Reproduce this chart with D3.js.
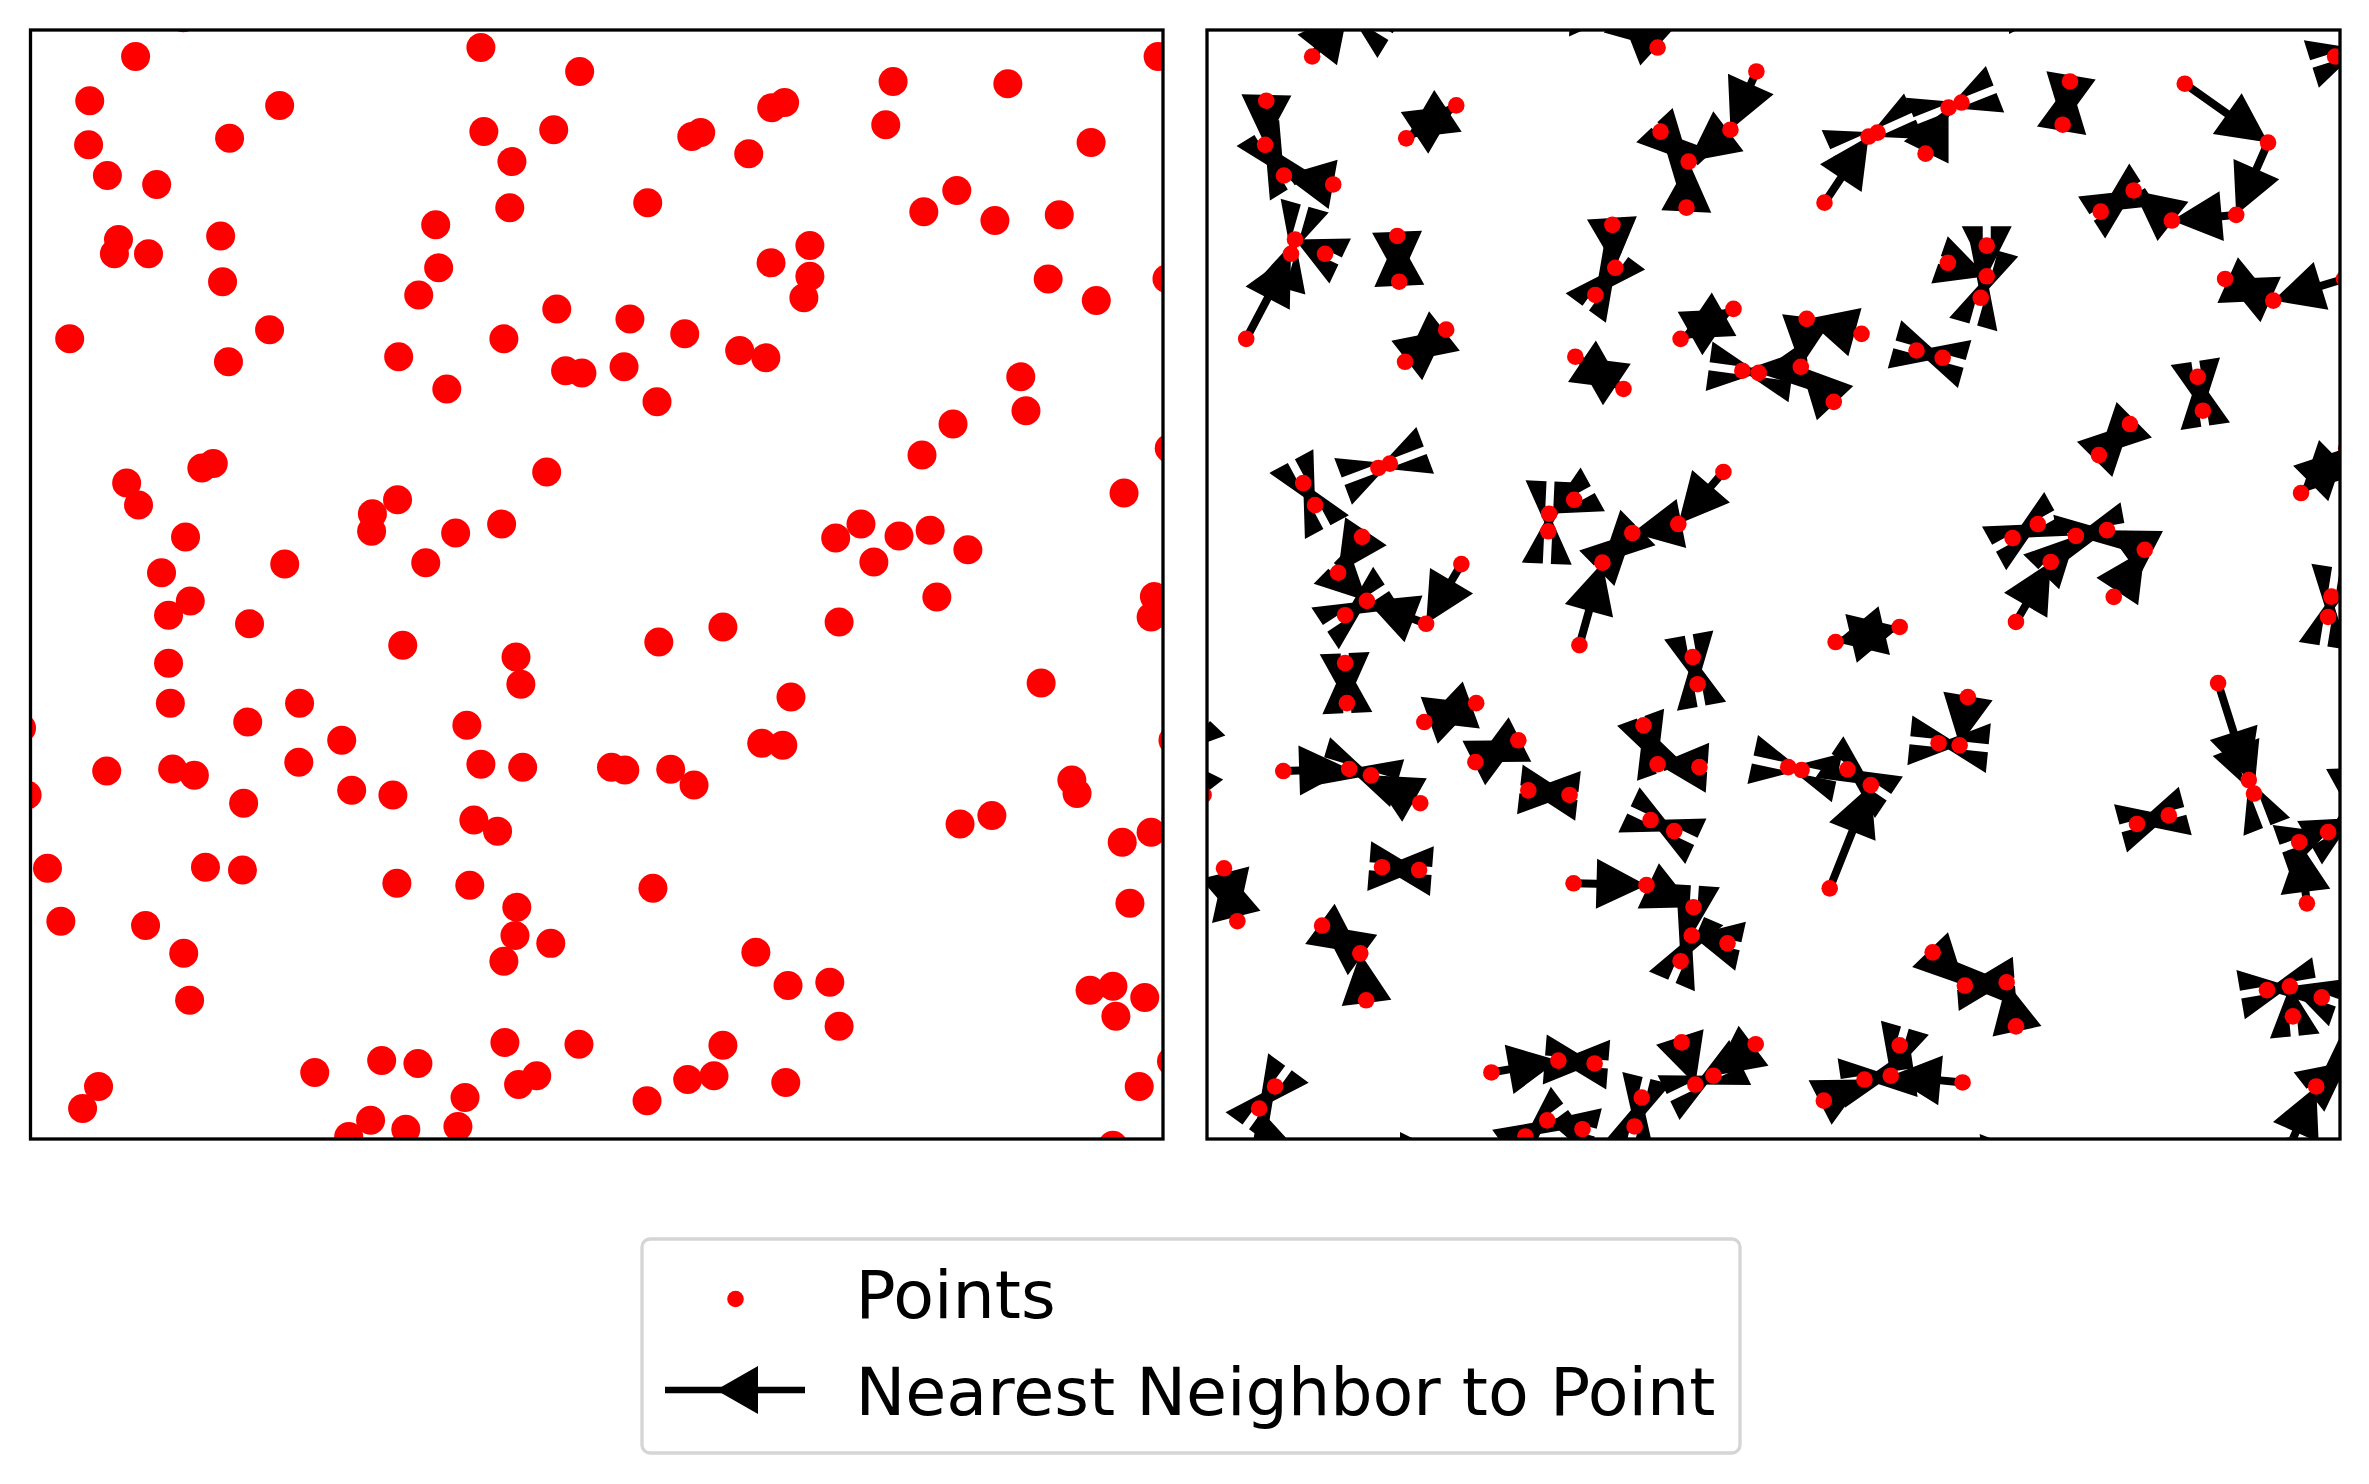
<!DOCTYPE html>
<html>
<head>
<meta charset="utf-8">
<script src="https://cdn.jsdelivr.net/npm/d3@7/dist/d3.min.js"></script>
<style>
  html, body { margin: 0; background: #fff; }
  text { font-family: "DejaVu Sans"; }
</style>
</head>
<body>
<div id="chart"></div>
<script>
// points as [x, y] in axis fractions, y measured up from the bottom of the axes
const pointsUpperLeft = [[.1349,1.011],[.0928,.9761],[.3977,.9842],[.4849,.9626],[.0523,.9362],[.22,.932],[.4003,.9084],[.462,.9101],
  [.0513,.8965],[.1758,.9023],[.4251,.8814],[.0679,.8688],[.1114,.8607],[.4232,.8398],[.3578,.8243],[.0777,.8111],[.0741,.7982],
  [.1042,.7982],[.1679,.8143],[.1696,.773],[.3604,.7856],[.3428,.7611],[.4647,.7485],[.2111,.7298],[.0346,.7215],[.1748,.7008],
  [.3251,.7054],[.418,.7215],[.4725,.6928],[.4869,.6908],[.3676,.6763],[.1614,.609],[.1513,.6051],[.0849,.5915],[.0954,.5716],
  [.1369,.5429],[.1157,.5106],[.2245,.5184],[.3241,.5764],[.3019,.5638],[.3012,.548],[.349,.5197],[.3754,.5464],[.416,.5545],[.4558,.6015]]
const pointsUpperRight = [[.9957,.9761],[.7617,.9536],[.863,.9516],[.6659,.9346],[.6545,.93],[.5918,.9075],[.5839,.9039],[.7552,.9146],
  [.6342,.8885],[.9365,.8985],[.545,.8443],[.8179,.8553],[.7888,.8362],[.8516,.8282],[.9084,.8333],[.6882,.8056],[.6539,.7901],
  [.6882,.7779],[.6829,.7585],[.8986,.7755],[.9411,.756],[1.0035,.7756],[.5293,.7395],[.5777,.726],[.5241,.6963],[.6262,.711],
  [.6493,.7044],[.5532,.6647],[.8744,.6873],[.879,.6567],[.8146,.6447],[.7872,.6167],[1.0055,.6228],[.9656,.5825],[.7333,.5545],
  [.711,.5419],[.7669,.5438],[.7944,.549],[.7447,.5203],[.8277,.5313]]
const pointsLowerLeft = [[.1411,.4852],[.1219,.4723],[.1934,.4646],[.3287,.4453],[.4287,.4346],[.433,.4101],[.1219,.4291],[.1235,.393],
  [.2376,.393],[.1918,.376],[.2748,.3595],[.3853,.373],[-.0079,.3705],[.2369,.3398],[.0673,.3318],[.1255,.3337],[.1447,.3279],
  [.3977,.3379],[.4346,.3353],[.2836,.3144],[.32,.3102],[-.003,.3102],[.1882,.3028],[.3915,.2876],[.4124,.2776],[.015,.2441],
  [.1545,.2451],[.1872,.2425],[.3235,.2306],[.3879,.2289],[.4294,.209],[.4278,.1835],[.4594,.1764],[.418,.1603],[.0268,.1964],
  [.1016,.1925],[.1353,.1674],[.1405,.1251],[.4189,.0871],[.4843,.0855],[.3101,.0707],[.3421,.0681],[.251,.06],[.447,.0571],
  [.431,.0491],[.3837,.0374],[.0601,.0474],[.046,.0275],[.3003,.0168],[.281,.0023],[.3314,.0088],[.3774,.0113]]
const pointsLowerRight = [[.8003,.4888],[.9924,.4891],[.9895,.4707],[.5548,.4481],[.6114,.4617],[.714,.4662],[.6715,.3985],[.8924,.4111],
  [1.0088,.3595],[.513,.3353],[.5248,.3327],[.5653,.3334],[.5859,.3192],[.6457,.3569],[.6643,.355],[.9195,.3237],[.9241,.3115],
  [.8208,.2841],[.8489,.2918],[.964,.2676],[.9895,.2767],[.5496,.226],[.9708,.2125],[.6405,.1683],[.6689,.1384],[.7058,.1413],
  [.714,.1016],[.9356,.1342],[.9558,.1377],[.9839,.1277],[.9584,.1106],[1.0075,.07],[.6114,.0845],[.5803,.0536],[.6035,.0571],
  [.6669,.051],[.5444,.0346],[.979,.0474],[.9558,-.0057]]
// these lie past the axes, never seen themselves, worked out from the arrow heads that reach in
const pointsOutside = [[.1244,1.0176],[.3645,1.0149],[.3071,1.0171],[.6911,1.0189],[.752,1.0189],[.752,1.0721],[1.0168,.9829],
  [.0583,-.0162],[.1571,-.0162],[.2145,-.0162],[.2145,-.0694],[.6646,-.02],[.7281,-.0135],[.7281,-.0649],[-.03,.3463],[1.0115,.2895]]
const points = [...pointsUpperLeft, ...pointsUpperRight, ...pointsLowerLeft, ...pointsLowerRight, ...pointsOutside]

const legendLabels = ['Points', 'Nearest Neighbor to Point']

const width = 2369, height = 1484
const svg = d3.select('#chart').append('svg')
  .attr('width', width)
  .attr('height', height)
  .style('display', 'block')

const axTop = 30, axBottom = 1139
const panels = [{x0: 30.5, x1: 1163, r: 14.5}, {x0: 1207, x1: 2340, r: 8.3}]

panels.forEach((p, i) => {
  p.x = d3.scaleLinear().domain([0, 1]).range([p.x0, p.x1])
  p.y = d3.scaleLinear().domain([0, 1]).range([axBottom, axTop])
  svg.append('clipPath').attr('id', 'clip' + i)
    .append('rect')
    .attr('x', p.x0).attr('y', axTop)
    .attr('width', p.x1 - p.x0).attr('height', axBottom - axTop)
})

// head size in pixels, tail is the thin bit
const headLen = 50, headWidth = 50, tailWidth = 8

function nearest(p) {
  const sx = panels[1].x, sy = panels[1].y
  return d3.least(points.filter(q => q !== p),
    q => Math.hypot(sx(q[0]) - sx(p[0]), sy(q[1]) - sy(p[1])))
}

// same outline as matplotlib's FancyArrow: tip first, then back along one side.
// if the arrow is shorter than its head the tail doubles back and leaves a slit
function arrowPath(a, b) {
  const sx = panels[1].x, sy = panels[1].y
  const ax = sx(a[0]), ay = sy(a[1]), bx = sx(b[0]), by = sy(b[1])
  const len = Math.hypot(bx - ax, by - ay)
  const ux = (bx - ax) / len, uy = (by - ay) / len
  const outline = [[0, 0], [-headLen, headWidth / 2], [-headLen, tailWidth / 2], [-len, tailWidth / 2],
    [-len, -tailWidth / 2], [-headLen, -tailWidth / 2], [-headLen, -headWidth / 2]]
  return d3.line()(outline.map(d => [bx + ux * d[0] - uy * d[1], by + uy * d[0] + ux * d[1]])) + 'Z'
}

// left: just the points
const left = svg.append('g').attr('clip-path', 'url(#clip0)')
left.selectAll('circle').data(points).enter().append('circle')
  .attr('cx', d => panels[0].x(d[0]))
  .attr('cy', d => panels[0].y(d[1]))
  .attr('r', panels[0].r)
  .attr('fill', '#ff0000')

// right: arrow from every point to its neighbour, dots on top
const right = svg.append('g').attr('clip-path', 'url(#clip1)')
right.selectAll('path').data(points).enter().append('path')
  .attr('d', d => arrowPath(d, nearest(d)))
  .attr('fill', '#000')
right.selectAll('circle').data(points).enter().append('circle')
  .attr('cx', d => panels[1].x(d[0]))
  .attr('cy', d => panels[1].y(d[1]))
  .attr('r', panels[1].r)
  .attr('fill', '#ff0000')

panels.forEach(p => {
  svg.append('rect')
    .attr('x', p.x0).attr('y', axTop)
    .attr('width', p.x1 - p.x0).attr('height', axBottom - axTop)
    .attr('fill', 'none')
    .attr('stroke', '#000')
    .attr('stroke-width', 3.3)
})

// legend
const legend = svg.append('g')
legend.append('rect')
  .attr('x', 642).attr('y', 1239)
  .attr('width', 1098).attr('height', 214)
  .attr('rx', 8)
  .attr('fill', '#fff')
  .attr('stroke', '#d5d5d5')
  .attr('stroke-width', 3.3)
legend.append('circle')
  .attr('cx', 735.5).attr('cy', 1299).attr('r', 8.3)
  .attr('fill', '#ff0000')
legend.append('line')
  .attr('x1', 665).attr('x2', 805)
  .attr('y1', 1390).attr('y2', 1390)
  .attr('stroke', '#000').attr('stroke-width', 6.4)
legend.append('path')
  .attr('d', d3.line()([[716, 1390], [758, 1366], [758, 1414]]) + 'Z')
  .attr('fill', '#000')
legend.selectAll('text').data(legendLabels).enter().append('text')
  .attr('x', 855.5)
  .attr('y', (d, i) => 1318 + i * 96.5)
  .attr('font-size', 66.67)
  .attr('fill', '#000')
  .text(d => d)
</script>
</body>
</html>
